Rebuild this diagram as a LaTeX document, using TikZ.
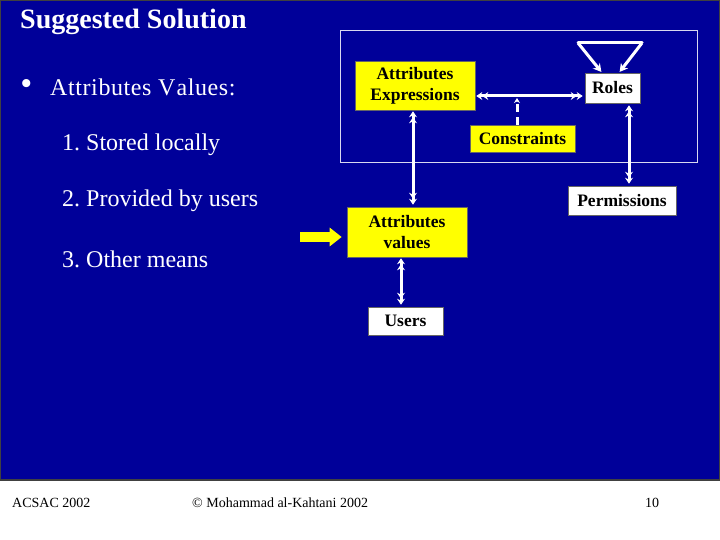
\documentclass[tikz,border=0pt]{standalone}
\usepackage{fontspec}
\setmainfont{Liberation Serif}
\usetikzlibrary{arrows.meta}
\definecolor{slideblue}{RGB}{0,0,153}
\definecolor{boxyellow}{RGB}{255,255,0}
\tikzset{
  ybox/.style={fill=boxyellow, draw=black!60, line width=0.6pt, text=black, font=\fontsize{17.5}{21}\selectfont\bfseries, align=center, inner sep=0pt},
  wbox/.style={fill=white, draw=black!60, line width=0.6pt, text=black, font=\fontsize{17.5}{21}\selectfont\bfseries, align=center, inner sep=0pt},
  dtip/.tip={Stealth[length=6pt,width=8pt]Stealth[length=6pt,width=8pt]},
  dbl/.style={draw=white, line width=3pt, dtip-dtip},
  single/.style={draw=white, line width=3pt, -{Stealth[length=8pt,width=9pt]}},
  bodytext/.style={text=white, font=\fontsize{24}{27}\selectfont, anchor=west, inner sep=0pt},
  foot/.style={text=black, font=\fontsize{14}{16}\selectfont, anchor=west, inner sep=0pt},
}
\begin{document}
\frenchspacing
\begin{tikzpicture}[x=1pt,y=-1pt]
\useasboundingbox (0,0) rectangle (720,540);
\fill[white] (0,0) rectangle (720,540);
\filldraw[fill=slideblue, draw=black!75, line width=1.5pt] (0,0) rectangle (720,480);

% left text
\node[text=white, font=\fontsize{28}{31}\selectfont\bfseries, anchor=west, inner sep=0pt] (title) at (20,22) {Suggested Solution};
\node[bodytext, font=\fontsize{30}{30}\selectfont\bfseries] (bullet) at (21,87) {•};
\node[bodytext] (av) at (50,87) {\addfontfeature{LetterSpace=2.5}Attributes V\kern1pt alues:};
\node[bodytext] (l1) at (62,145) {1. Stored locally};
\node[bodytext] (l2) at (62,201) {2. Provided by users};
\node[bodytext] (l3) at (62,259) {3. Other means};

% outline box
\draw[white!85!slideblue, line width=0.8pt] (340,30) rectangle (697,162);

% boxes
\node[ybox, minimum width=120pt, minimum height=49pt] (AE) at (415,85.5) {Attributes\\Expressions};
\node[wbox, minimum width=55pt, minimum height=30pt] (R) at (612.5,88) {Roles};
\node[ybox, minimum width=105pt, minimum height=27pt] (C) at (522.5,138.5) {Constraints};
\node[wbox, minimum width=108pt, minimum height=29pt] (P) at (622,200.5) {Permissions};
\node[ybox, minimum width=120pt, minimum height=50pt] (AV) at (407,232) {Attributes\\values};
\node[wbox, minimum width=75pt, minimum height=28pt] (U) at (405.5,321) {Users};

% helper coordinates
\coordinate (hl) at (517,96);
\coordinate (x1) at (413,0);
\coordinate (x2) at (629,0);
\coordinate (x3) at (401,0);
\coordinate (t1) at (578,43);
\coordinate (t2) at (642,43);
\coordinate (t3) at (602,0);
\coordinate (t4) at (619,0);
\coordinate (ya) at (300,237);

% connectors
\draw[dbl, shorten <=1pt, shorten >=2pt] (AE.east |- hl) -- (R.west |- hl);
\draw[draw=white, line width=3pt, dash pattern=on 8pt off 5pt, -{Stealth[length=5pt,width=6pt]}] (C.north -| hl) -- ([yshift=-2pt]hl);
\draw[dbl, shorten <=1pt, shorten >=2pt] (AE.south -| x1) -- (AV.north -| x1);
\draw[dbl, shorten <=2pt, shorten >=2pt] (R.south -| x2) -- (P.north -| x2);
\draw[dbl, shorten <=1pt, shorten >=2pt] (AV.south -| x3) -- (U.north -| x3);
\draw[draw=white, line width=3pt, line cap=round] (t1) -- (t2);
\draw[single, shorten >=1pt] (t1) -- (R.north -| t3);
\draw[single, shorten >=1pt] (t2) -- (R.north -| t4);
\draw[draw=boxyellow, line width=10pt, -{Triangle[length=12pt,width=18pt]}, shorten >=5pt] (ya) -- (AV.west |- ya);

% footer
\node[foot] (f1) at (12,503) {ACSAC 2002};
\node[foot] (f2) at (192,503) {© Mohammad al-Kahtani 2002};
\node[foot] (f3) at (645,503) {10};
\end{tikzpicture}
\end{document}
